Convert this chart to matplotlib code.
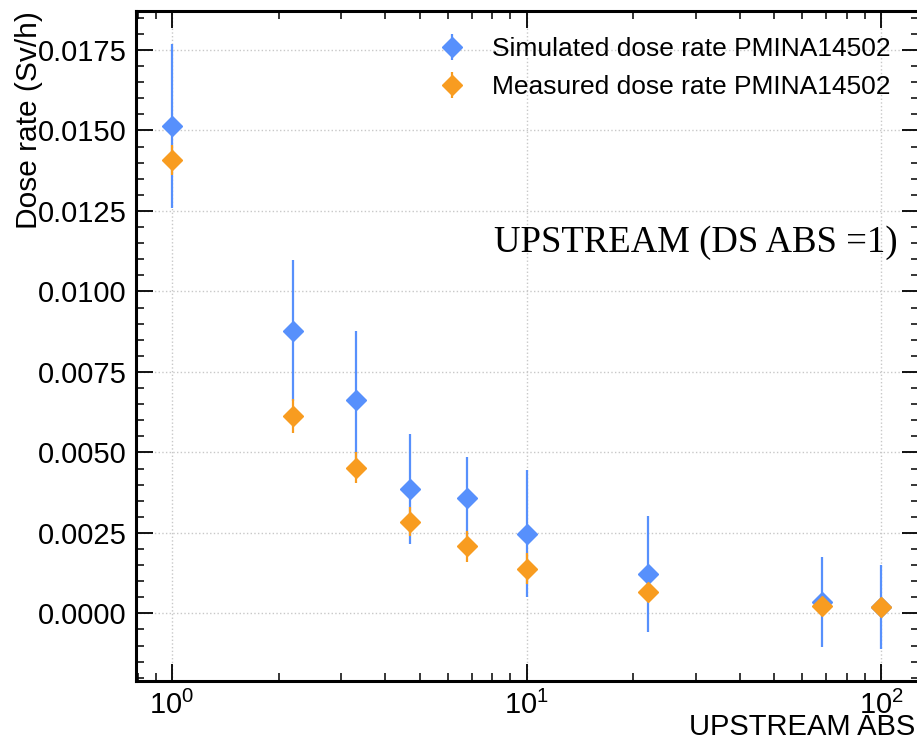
import matplotlib
matplotlib.use("Agg")
import matplotlib.pyplot as plt
from matplotlib.ticker import AutoMinorLocator, LogLocator, NullFormatter

plt.rcParams['font.family'] = ['Liberation Sans', 'DejaVu Sans']
plt.rcParams['mathtext.fontset'] = 'custom'
plt.rcParams['mathtext.rm'] = 'Liberation Sans'
plt.rcParams['mathtext.it'] = 'Liberation Sans:italic'

# ---- data ----
upstream_abs = [1, 2.2, 3.3, 4.7, 6.8, 10, 22, 68, 100]
sim_dose = [0.01514, 0.00878, 0.00662, 0.00387, 0.00357, 0.00248, 0.00122, 0.00035, 0.00020]
sim_err = [0.00255, 0.00219, 0.00216, 0.00170, 0.00130, 0.00196, 0.00180, 0.00140, 0.00130]
meas_dose = [0.01409, 0.00613, 0.00452, 0.00285, 0.00208, 0.00139, 0.00066, 0.00023, 0.00020]
meas_err = [0.00046, 0.00052, 0.00048, 0.00046, 0.00048, 0.00049, 0.00020, 0.00010, 0.00010]
sim_label = "Simulated dose rate PMINA14502"
meas_label = "Measured dose rate PMINA14502"

blue = "#5790fc"
orange = "#f89c20"

fig = plt.figure(figsize=(9.17, 7.44), dpi=100)
ax = fig.add_axes([136/917, 1-681/744, (919-136)/917, (681-11)/744])

ax.errorbar(upstream_abs, sim_dose, yerr=sim_err, fmt='D', color=blue, ms=10.5,
            elinewidth=1.6, capsize=0, label=sim_label, zorder=3)
ax.errorbar(upstream_abs, meas_dose, yerr=meas_err, fmt='D', color=orange, ms=10.5,
            elinewidth=1.6, capsize=0, label=meas_label, zorder=4)

ax.set_xscale('log')
ax.set_xlim(0.7913, 128.0)
ax.set_ylim(-0.0021, 0.01871)

ax.yaxis.set_minor_locator(AutoMinorLocator(5))
ax.xaxis.set_major_locator(LogLocator(base=10, numticks=10))
ax.xaxis.set_minor_locator(LogLocator(base=10, subs=[2, 3, 4, 5, 6, 7, 8, 9], numticks=20))
ax.xaxis.set_minor_formatter(NullFormatter())
ax.set_yticks([0.0, 0.0025, 0.005, 0.0075, 0.01, 0.0125, 0.015, 0.0175])
ax.set_yticklabels(["0.0000", "0.0025", "0.0050", "0.0075", "0.0100", "0.0125", "0.0150", "0.0175"])

ax.tick_params(which='both', direction='in', top=True, right=True, labelsize=21)
ax.tick_params(which='major', length=12, width=1.3, pad=7)
ax.tick_params(which='minor', length=6, width=1.1)
for s in ax.spines.values():
    s.set_linewidth(2.2)

ax.grid(True, which='major', linestyle=':', color='#c8c8c8', linewidth=1.0)
ax.set_axisbelow(True)

ax.set_ylabel("Dose rate (Sv/h)", fontsize=21.5, loc='top')
ax.yaxis.set_label_coords((43 - 136) / 783, 1.0)
ax.set_xlabel("UPSTREAM ABS", fontsize=21, loc='right')
ax.xaxis.set_label_coords((915 - 136) / 783, -(713 - 681) / 670)

ax.text((898 - 136) / 783, (681 - 252) / 670, "UPSTREAM (DS ABS =1)", transform=ax.transAxes,
        ha='right', va='baseline', fontsize=26.5, family=['Liberation Serif', 'DejaVu Serif'])

ax.legend(loc='upper right', bbox_to_anchor=(0.997, 1.0), frameon=False, fontsize=19,
          handletextpad=0.9, labelspacing=0.53, handlelength=1.2, borderaxespad=0.6)

fig.savefig("out.png", dpi=100)
